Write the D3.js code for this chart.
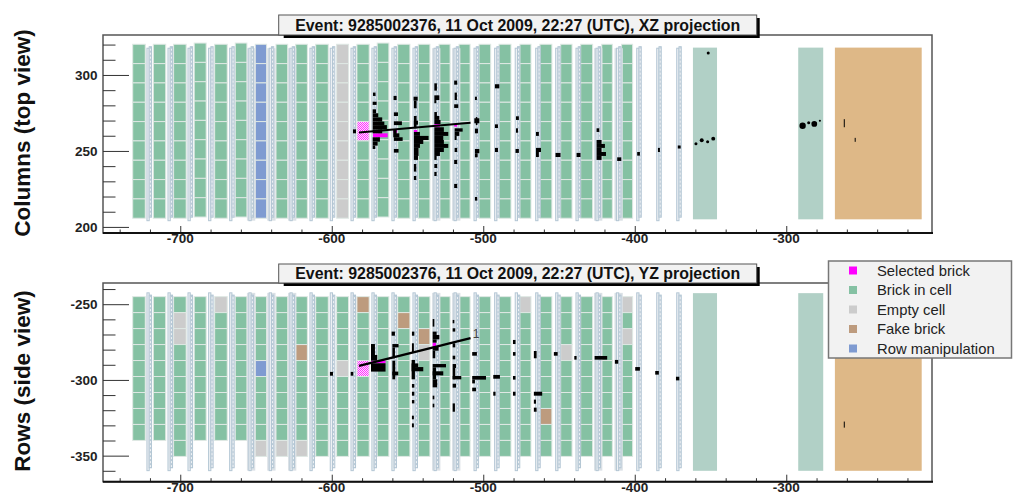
<!DOCTYPE html>
<html><head><meta charset="utf-8">
<script src="https://cdnjs.cloudflare.com/ajax/libs/d3/7.8.5/d3.min.js"></script>
<style>html,body{margin:0;padding:0;background:#fff;overflow:hidden}svg{display:block}text{font-family:"Liberation Sans",Arial,sans-serif}</style>
</head><body><svg id="c" width="1014" height="495"></svg>
<script>
const titleXZ = "Event: 9285002376, 11 Oct 2009, 22:27 (UTC), XZ projection";
const titleYZ = "Event: 9285002376, 11 Oct 2009, 22:27 (UTC), YZ projection";
const labelXZ = "Columns (top view)";
const labelYZ = "Rows (side view)";
const legendNames = ["Selected brick","Brick in cell","Empty cell","Fake brick","Row manipulation"];
const legendKeys = ["selected","brick","empty","fake","row"];
const colours = {selected:"#ff00ff",brick:"#85c1a3",empty:"#cccccc",fake:"#bd9b7e",row:"#7f9bd1"};

const xMajor = [-700,-600,-500,-400,-300];
const xMinor = [-740,-720,-680,-660,-640,-620,-580,-560,-540,-520,-480,-460,-440,-420,-380,-360,-340,-320,-280,-260,-240,-220];
const yMajorXZ = [300,250,200];
const yMinorXZ = [320,310,290,280,270,260,240,230,220,210];
const yMajorYZ = [-250,-300,-350];
const yMinorYZ = [-240,-260,-270,-280,-290,-310,-320,-330,-340,-360];

const wallLeft = [-731.4,-717.8,-704.4,-690.8,-677.3,-663.7,-650.5,-636.8,-623.8,-610.6,-596.8,-583.4,-570,-556.5,-542.9,-529.2,-516,-502.8,-489.6,-475.8,-462.6,-448.9,-435.7,-421.8,-408.7];
const wallWidth = [8.3,8.2,8.3,7.9,8.3,7.7,7.5,7.7,7.7,8.3,7.9,8.1,7.7,8.1,7.7,7.3,7.3,7.7,7.9,7.3,7.9,7.5,7.9,7,7.3];
const wallTopXZ = [320.2,320.2,320.2,321,320.2,321,320.2,320.2,320.2,320.2,320.2,320.2,321,320.2,320.2,320.2,320.2,320.2,320.2,320.2,320.2,320.2,320.2,320.2,320.2];
const rowsXZ = 9;
const rowHeightXZ = 12.72;
const wallRowsYZ = [9,9,10,9,9,9,10,10,10,10,10,10,10,10,10,10,10,10,10,10,10,10,10,10,10];
const wallTopYZ = -245;
const rowHeightYZ = 10.55;
const specialXZ = [[6,0,"row"],[6,1,"row"],[6,2,"row"],[6,3,"row"],[6,4,"row"],[6,5,"row"],[6,6,"row"],[6,7,"row"],[6,8,"row"],
 [10,0,"empty"],[10,1,"empty"],[10,2,"empty"],[10,3,"empty"],[10,4,"empty"],[10,5,"empty"],[10,6,"empty"],[10,7,"empty"],[10,8,"empty"],[11,4,"selected"]];
const specialYZ = [[2,1,"empty"],[2,2,"empty"],[4,0,"empty"],[6,4,"row"],[6,9,"empty"],[7,9,"empty"],[8,9,"empty"],[8,3,"fake"],[10,4,"empty"],[11,0,"fake"],[11,4,"selected"],[13,1,"fake"],[14,2,"fake"],[14,3,"empty"],[19,0,"empty"],[20,7,"fake"],[21,3,"empty"],[24,0,"empty"],[24,2,"empty"]];

const trackerX = [-722,-708.1,-694.9,-681.3,-667.4,-654.7,-641.3,-627.6,-614.4,-601,-587.3,-573.5,-560.3,-546.4,-532.5,-519.3,-506.1,-492.5,-478.9,-465.4,-452.2,-438.8,-425.6,-412.1,-398.7,-385.5,-372.3];
const trackerShaded = [5,6,7,14,15,22,23];
const trackerYXZ = [[317.6,204.1],[318.6,206.4]];
const trackerYYZ = [[-242.5,-359.9],[-244,-358]];

const spectroX = [[-361.6,-345.7,"#b1d0c6"],[-292.1,-275.6,"#b1d0c6"],[-267.9,-210.6,"#deb887"]];
const spectroYXZ = [318,205];
const spectroYYZ = [-242.7,-360];

const magentaXZ = [[-572.8,-563.1,261.6,259],[-559.4,-556.8,264.2,262],[-545.8,-543.6,263.8,262.5],[-532.3,-528.6,267.7,265.6],[-519.2,-517.2,267.7,266]];
const magentaYZ = [[-574.1,-564.5,-287.3,-289],[-533.4,-531.2,-275.4,-278]];

const hitsXZ = [
 [-586,-584,264.2,261.6],
 [-572.8,-571.1,288.4,286.2],[-573,-570.4,282.4,280.3],[-573,-570.8,277.4,274.8],[-573,-569.3,274.8,272.1],[-573,-566.7,272.1,269.3],[-573,-565.3,269.3,267],[-573,-563.6,267,264.2],[-573,-566.7,264.2,261.6],[-573,-568.2,259,256.1],[-573,-569.7,256.1,253.5],[-573,-571.3,253.5,251.3],
 [-559.2,-557.2,286.2,283.5],[-559,-556.3,275.4,273],[-559,-553.7,269.5,267],[-559.4,-557.2,264.2,259],[-559,-555.4,261.6,259],[-559,-553.2,259,256.6],[-559,-555.9,251.3,248.9],
 [-546,-543.3,285.7,283.1],[-545.8,-544,283.1,278.1],[-545.8,-544,273,264.9],[-545.8,-543.1,269.9,267.3],[-545.8,-541.8,262.5,259.9],[-545.8,-536.1,259.9,257.2],[-545.8,-539.6,257.2,254.6],[-545.8,-541.8,254.6,252],[-545.8,-542.7,252,246.7],[-545.8,-543.1,246.7,244.1],[-545.8,-544.2,241.4,236.4],[-545.8,-544.2,233.5,230.9],
 [-532.3,-530.6,294.5,289.7],[-532.3,-529,286.6,283.5],[-532.3,-531,283.5,281.4],[-532.3,-530.6,275.6,273],[-532.3,-529,273,270.4],[-532.3,-528.2,270.4,267.7],[-532.3,-526,265.6,262.5],[-532.3,-523.1,262.5,259.9],[-532.3,-526.4,259.9,257.2],[-532.3,-526,257.2,254.6],[-532.3,-523.1,254.6,252],[-532.3,-526,252,249.3],[-532.3,-528.6,249.3,246.7],[-532.3,-530.8,246.7,244.1],[-532.3,-530.4,241.4,238.8],[-532.3,-530.8,236.2,233.5],
 [-519.2,-517.2,296.3,293.6],[-518.9,-517.4,288.4,283.5],[-519.2,-516.5,280.7,278.3],[-518.9,-513.6,264.9,262.7],[-518.9,-515.8,262.7,259.9],[-518.9,-517.6,259.9,257.2],[-518.9,-517.2,252,249.3],[-519.2,-517.2,244.1,241.4],[-519.2,-517.2,228.3,225.6],
 [-505.5,-504.2,285.7,283.5],[-505.9,-502.6,271.5,268.2],[-504.9,-503.9,272.3,267],[-505.5,-503.5,264.7,261.6],[-505.5,-502.6,251.3,248.5],[-505.5,-503.7,248.5,245.8],[-505.5,-504,219.7,217.3],
 [-492.3,-489.4,293.9,291.2],[-492.3,-490.3,267.5,265.1],[-492.3,-490.3,252,249.3],
 [-478.4,-476.5,272.8,270.4],[-478.4,-477.1,264.9,262],[-478.7,-476.5,251.3,248.7],
 [-465.2,-463.3,262.5,259.9],[-465.2,-461.9,252,249.3],[-465.2,-463.3,249.3,246],
 [-452.3,-449,248.7,246],
 [-438.4,-435.8,248.7,246],
 [-425.2,-423.4,264.9,262.5],[-425.2,-421.9,257.2,254.6],[-425.2,-419.7,254.6,252],[-425.2,-421.9,252,249.3],[-425.2,-419,249.3,246.7],[-425.2,-421.9,246.7,244.1],
 [-411.6,-408.9,245.8,243.4],
 [-398.4,-396.6,249.3,246.9],
 [-384.7,-383.4,252,249.3],
 [-371.6,-369.7,253.6,251.6]
];
const hitsYZ = [
 [-601.2,-599.2,-294.7,-297.2],[-587.5,-585.8,-294.7,-297.2],
 [-574.1,-571.5,-276.3,-285.7],[-574.1,-570,-283.5,-287.3],[-574.1,-564.5,-289,-294.5],
 [-560,-555.9,-276.3,-278.5],[-560,-558.3,-278.5,-285.7],[-560.5,-558.3,-268.1,-270.8],[-560,-558.1,-287.3,-299.6],[-560,-556.1,-294.5,-297],
 [-547.1,-545.5,-268.1,-270.8],[-547.1,-545.8,-275.8,-282],[-547.3,-545.1,-286.8,-299.6],[-547.3,-539.6,-291.5,-294.3],[-547.3,-542.9,-289.1,-291.5],[-547.1,-545.5,-302.7,-305.1],[-547.1,-545.5,-307.8,-310.4],[-547.1,-545.5,-313.3,-315.5],[-547.1,-545.8,-323.6,-326],[-547.1,-545.8,-328.7,-331.3],
 [-533.4,-532.3,-259.8,-264.8],[-533.4,-529,-270.3,-273.2],[-533.4,-530.8,-268.1,-270.3],[-533.4,-530.8,-273.2,-275.4],[-533.4,-529.5,-278,-280.7],[-533.4,-531.7,-280.7,-285.7],[-533.4,-524.6,-289.5,-291.7],[-533.4,-531.2,-291.7,-299.6],[-533.4,-526.4,-294.3,-297],[-533.4,-530.4,-299.6,-304.9],[-533.4,-532.3,-310.4,-312.8],[-533.4,-532.3,-315.7,-318.1],
 [-520.2,-519.1,-260.4,-262.6],[-520.2,-518.5,-265.9,-268.1],[-520.2,-518.5,-275.8,-278.5],[-520.2,-518.5,-284,-286.4],[-520.2,-518,-289.5,-292.1],[-520.2,-518.5,-292.1,-299.6],[-520.2,-514.5,-297.4,-299.6],[-520.2,-518,-302.5,-305.1],[-520.2,-518.7,-315.5,-321],
 [-507.3,-504.2,-281.6,-284],[-507.3,-498.2,-297.4,-299.8],[-507.3,-505.5,-299.8,-302.3],[-507.3,-504.8,-305.1,-307.5],
 [-493.4,-489,-296.7,-299.2],[-493.4,-491.9,-307.8,-310.4],
 [-480.4,-478.7,-273.6,-276.3],[-480.4,-478.7,-281.6,-284],[-480.4,-478.7,-297.4,-299.8],[-480.4,-478.7,-307.8,-310.4],
 [-466.6,-464.8,-280.9,-285.7],[-466.6,-461.1,-307.8,-310.4],[-466.6,-465.2,-313,-315.7],[-466.6,-464.8,-318.3,-321],
 [-453.4,-450.9,-281.6,-284],
 [-439.9,-438.4,-284.2,-286.6],
 [-426.5,-418.2,-284.2,-286.6],
 [-413.1,-410.9,-286.8,-289.3],
 [-399.7,-396.6,-291.5,-293.9],
 [-386.5,-384.1,-294.1,-296.5],
 [-372.8,-370.6,-297.9,-300.3]
];
const blobsXZ = [[-351.5,314.5,1],[-359.6,254.8,1],[-355.8,257,1.3],[-351.9,256.1,1],[-348.2,258.1,1.3],[-289.2,266.6,2.1],[-285.2,268.6,1],[-281.5,267.8,1.9],[-277.8,269.9,0.7]];
const sticksXZ = [[-261.7,270.9,265.6],[-254.5,258.6,256]];
const sticksYZ = [[-261.7,-327.5,-331.5]];
const trackXZ = [[-582,262.2],[-508.4,268.6]];
const trackYZ = [[-582,-290.7],[-508.4,-272.4]];
const trackLabel = {text:"1",x:-504.8,y:-269.6};

const svg = d3.select("#c");
const defs = svg.append("defs");
const pat = defs.append("pattern").attr("id","chk").attr("width",2).attr("height",2).attr("patternUnits","userSpaceOnUse");
pat.append("rect").attr("width",2).attr("height",2).attr("fill","#ffe0ff");
pat.append("rect").attr("width",1).attr("height",1).attr("fill","#ff30ff");
pat.append("rect").attr("x",1).attr("y",1).attr("width",1).attr("height",1).attr("fill","#ff30ff");

const margin = {l:103,r:932};
const x = d3.scaleLinear().domain([-751,-203.8]).range([margin.l,margin.r]);

function panel(o){
  const g = svg.append("g");
  const y = d3.scaleLinear().domain(o.yDomain).range([o.bottom,o.top]);
  g.append("g").selectAll("rect").data(spectroX).join("rect")
    .attr("x",d=>x(d[0])).attr("width",d=>x(d[1])-x(d[0]))
    .attr("y",y(o.spectroY[0])).attr("height",y(o.spectroY[1])-y(o.spectroY[0]))
    .attr("fill",d=>d[2]);
  const cells=[];
  wallLeft.forEach((l,c)=>{
    const n=o.rowsOf(c);
    for(let r=0;r<n;r++){
      const sp=o.special.find(s=>s[0]===c&&s[1]===r);
      cells.push({c,r,k:sp?sp[2]:"brick"});
    }
  });
  g.append("g").selectAll("rect").data(cells).join("rect")
    .attr("x",d=>x(wallLeft[d.c])).attr("width",d=>x(wallLeft[d.c]+wallWidth[d.c])-x(wallLeft[d.c]))
    .attr("y",d=>y(o.topOf(d.c)-d.r*o.rowH)).attr("height",d=>y(0)-y(o.rowH))
    .attr("fill",d=>d.k==="selected"?"url(#chk)":colours[d.k])
    .attr("stroke","#dfe8e4").attr("stroke-width",1);
  const tg=g.append("g");
  trackerX.forEach((t,k)=>{
    if(trackerShaded.includes(k)) tg.append("rect").attr("x",x(t-1.3)).attr("width",x(t+4.2)-x(t-1.3))
      .attr("y",y(o.trackerY[0][0])).attr("height",y(o.trackerY[0][1])-y(o.trackerY[0][0])).attr("fill","#dbe1e6");
    tg.append("rect").attr("x",x(t)).attr("width",x(t+1.5)-x(t))
      .attr("y",y(o.trackerY[0][0])).attr("height",y(o.trackerY[0][1])-y(o.trackerY[0][0]))
      .attr("fill","#eef1f4").attr("stroke","#b3c6d4").attr("stroke-width",1);
    tg.append("rect").attr("x",x(t+1.5)).attr("width",x(t+3)-x(t+1.5))
      .attr("y",y(o.trackerY[1][0])).attr("height",y(o.trackerY[1][1])-y(o.trackerY[1][0]))
      .attr("fill","#eef1f4").attr("stroke","#b3c6d4").attr("stroke-width",1);
    tg.append("line").attr("x1",x(t+2.25)).attr("x2",x(t+2.25))
      .attr("y1",y(o.trackerY[1][0])).attr("y2",y(o.trackerY[1][1]))
      .attr("stroke","#b3c6d4").attr("stroke-width",1).attr("stroke-dasharray","2 2");
  });
  const box=(sel,data,fill)=>sel.append("g").selectAll("rect").data(data).join("rect")
    .attr("x",d=>x(d[0])).attr("width",d=>x(d[1])-x(d[0]))
    .attr("y",d=>y(d[2])).attr("height",d=>y(d[3])-y(d[2])).attr("fill",fill);
  box(g,o.magenta,"#ff00ff");
  box(g,o.hits,"#000");
  g.append("g").selectAll("circle").data(o.blobs).join("circle")
    .attr("cx",d=>x(d[0])).attr("cy",d=>y(d[1])).attr("r",d=>x(d[0]+d[2])-x(d[0])).attr("fill","#000");
  g.append("g").selectAll("line").data(o.sticks).join("line")
    .attr("x1",d=>x(d[0])).attr("x2",d=>x(d[0])).attr("y1",d=>y(d[1])).attr("y2",d=>y(d[2]))
    .attr("stroke","#000").attr("stroke-width",1);
  g.append("path").datum(o.track).attr("fill","none").attr("stroke","#000").attr("stroke-width",o.trackW)
    .attr("d",d3.line().x(d=>x(d[0])).y(d=>y(d[1])));
  g.append("rect").attr("x",margin.l).attr("y",o.top).attr("width",margin.r-margin.l).attr("height",o.bottom-o.top)
    .attr("fill","none").attr("stroke","#555").attr("stroke-width",1.5);
  const clean=s=>{s.select(".domain").remove();};
  const style=(s,c)=>s.selectAll("line").attr("stroke",c).attr("stroke-width",1);
  const gx=(vals,len)=>{
    g.append("g").attr("transform",`translate(0,${o.bottom})`)
      .call(d3.axisTop(x).tickValues(vals).tickSize(len).tickFormat(""))
      .call(clean).call(style,"#333");
  };
  gx(xMinor,3.5); gx(xMajor,7);
  g.append("line").attr("x1",margin.l).attr("x2",margin.r+1).attr("y1",o.bottom).attr("y2",o.bottom).attr("stroke","#111").attr("stroke-width",2);
  g.append("g").selectAll("text").data(xMajor).join("text").attr("x",d=>x(d)).attr("y",o.bottom+10)
    .attr("text-anchor","middle").attr("font-size",13.5).attr("font-weight","bold").attr("fill","#222")
    .text(d=>d);
  const gy=(vals,len)=>{
    g.append("g").attr("transform",`translate(${margin.l},0)`)
      .call(d3.axisRight(y).tickValues(vals).tickSize(len).tickFormat(""))
      .call(clean).call(style,"#333");
  };
  gy(o.yMinor,12.5); gy(o.yMajor,26);
  g.append("g").selectAll("text").data(o.yMajor).join("text").attr("x",97.5).attr("y",d=>y(d))
    .attr("dy","0.36em").attr("text-anchor","end").attr("font-size",13.5).attr("font-weight","bold").attr("fill","#222")
    .text(d=>d);
  g.append("text").attr("transform",`translate(${o.labelX},${o.labelY}) rotate(-90)`)
    .attr("text-anchor","middle").attr("dy","0.36em").attr("font-size",22.5).attr("font-weight","bold").attr("fill","#111").text(o.label);
  const tx=278.7,tw=478,ty=o.titleTop,th=o.top-o.titleTop;
  g.append("rect").attr("x",tx+5).attr("y",ty+3).attr("width",tw-2).attr("height",th).attr("fill","#000");
  g.append("rect").attr("x",tx).attr("y",ty).attr("width",tw).attr("height",th).attr("fill","#f2f2f2").attr("stroke","#555").attr("stroke-width",1);
  g.append("text").attr("x",tx+tw/2).attr("y",ty+th/2).attr("dy","0.36em").attr("text-anchor","middle")
    .attr("font-size",15.9).attr("font-weight","bold").attr("fill","#111").text(o.title);
  return {y,g};
}

panel({top:35,bottom:233,yDomain:[196,326.3],spectroY:spectroYXZ,rowsOf:()=>rowsXZ,topOf:c=>wallTopXZ[c],rowH:rowHeightXZ,
  special:specialXZ,trackerY:trackerYXZ,magenta:magentaXZ,hits:hitsXZ,blobs:blobsXZ,sticks:sticksXZ,track:trackXZ,trackW:2,
  yMajor:yMajorXZ,yMinor:yMinorXZ,label:labelXZ,labelX:22,labelY:133,titleTop:15,title:titleXZ});
const bottomPanel = panel({top:283,bottom:481.7,yDomain:[-367.2,-236],spectroY:spectroYYZ,rowsOf:c=>wallRowsYZ[c],topOf:()=>wallTopYZ,rowH:rowHeightYZ,
  special:specialYZ,trackerY:trackerYYZ,magenta:magentaYZ,hits:hitsYZ,blobs:[],sticks:sticksYZ,track:trackYZ,trackW:2.5,
  yMajor:yMajorYZ,yMinor:yMinorYZ,label:labelYZ,labelX:22,labelY:381,titleTop:264,title:titleYZ});
bottomPanel.g.append("text").attr("x",x(trackLabel.x)).attr("y",bottomPanel.y(trackLabel.y)).attr("dy","0.36em")
  .attr("text-anchor","middle").attr("font-size",12).attr("fill","#444").text(trackLabel.text);

const lg=svg.append("g");
lg.append("rect").attr("x",828.5).attr("y",261).attr("width",183).attr("height",97).attr("fill","#f2f2f2").attr("stroke","#777").attr("stroke-width",1.5);
const legendY=d3.scalePoint().domain(legendKeys).range([270.5,348.5]);
lg.selectAll("rect.s").data(legendKeys).join("rect").attr("class","s")
  .attr("x",849).attr("width",8).attr("height",8).attr("y",k=>legendY(k)-4).attr("fill",k=>colours[k]);
lg.selectAll("text").data(legendNames).join("text").attr("x",877).attr("y",(d,i)=>legendY(legendKeys[i])).attr("dy","0.36em")
  .attr("font-size",14.8).attr("fill","#222").text(d=>d);
</script></body></html>
